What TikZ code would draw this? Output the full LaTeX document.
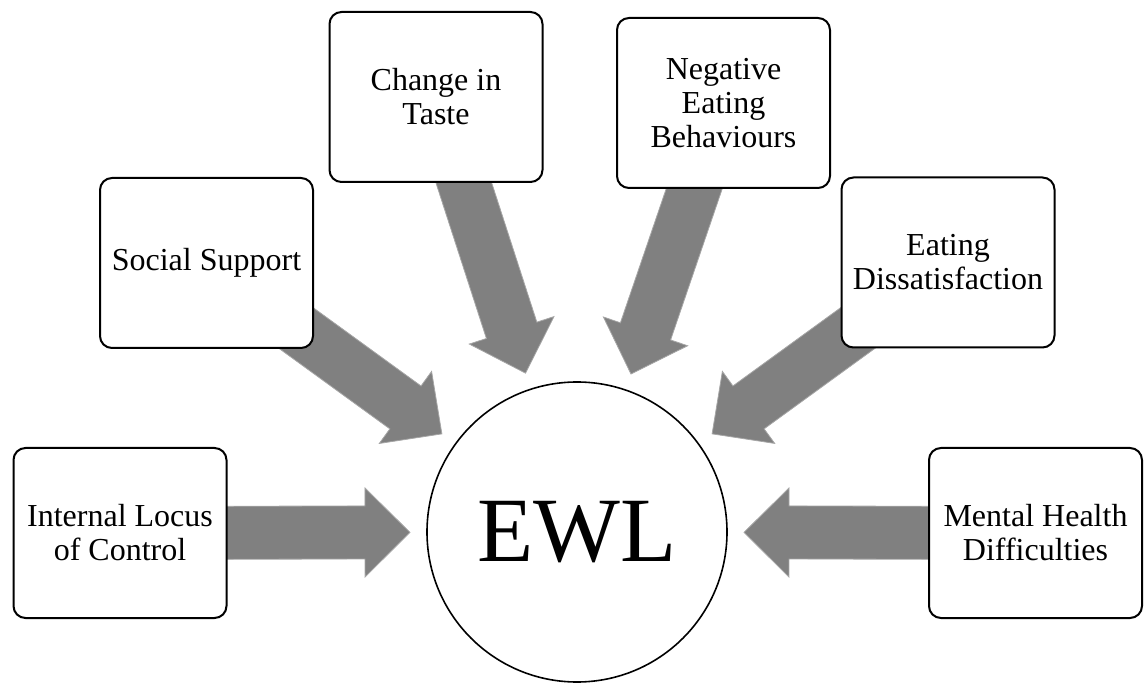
\documentclass[tikz,border=0pt]{standalone}
\usepackage{fontspec}
\setmainfont{Liberation Serif}
\usetikzlibrary{calc,backgrounds}

\tikzset{
  factor/.style={draw=black, line width=2pt, rounded corners=12pt, fill=white,
    minimum width=213pt, minimum height=170pt, inner sep=0pt, align=center,
    font=\fontsize{32}{34}\selectfont},
  hub/.style={circle, draw=black, line width=1.6pt, fill=white,
    minimum size=300pt, inner sep=0pt, font=\fontsize{92}{92}\selectfont},
  blockarrow/.style={fill=black!50, draw=black!35, line width=0.8pt, line join=miter}
}

% Block arrow from the centre of node #1 to the point #2; #3 names the helper point
\newcommand\flowarrow[3]{%
  \coordinate (#3) at ($(#2)!45pt!(#1.center)$);
  \filldraw[blockarrow]
    ($(#1.center)!26.5pt!90:(#2)$) -- ($(#3)!26.5pt!90:(#2)$) --
    ($(#3)!44.5pt!90:(#2)$) -- (#2) -- ($(#3)!44.5pt!-90:(#2)$) --
    ($(#3)!26.5pt!-90:(#2)$) -- ($(#1.center)!26.5pt!-90:(#2)$) -- cycle;
}

\begin{document}
\begin{tikzpicture}[x=1pt, y=-1pt]
  \useasboundingbox (0,0) rectangle (1144,684);

  % central outcome
  \node[hub] (ewl) at (577,532) {EWL};

  % contributing factors
  \node[factor] (ilc) at (120,533)    {Internal Locus\\of Control};
  \node[factor] (ss)  at (206.5,263)  {Social Support};
  \node[factor] (cit) at (436,97)     {Change in\\Taste};
  \node[factor] (neb) at (723.5,103)  {Negative\\Eating\\Behaviours};
  \node[factor] (ed)  at (948,262.5)  {Eating\\Dissatisfaction};
  \node[factor] (mhd) at (1035.5,533) {Mental Health\\Difficulties};

  % arrow tips stop just short of the circle
  \foreach \f in {ilc,ss,cit,neb,ed,mhd}{
    \coordinate (tip-\f) at ($(ewl.center)!167pt!(\f.center)$);
  }

  \begin{scope}[on background layer]
    \flowarrow{ilc}{tip-ilc}{base-ilc}
    \flowarrow{ss}{tip-ss}{base-ss}
    \flowarrow{cit}{tip-cit}{base-cit}
    \flowarrow{neb}{tip-neb}{base-neb}
    \flowarrow{ed}{tip-ed}{base-ed}
    \flowarrow{mhd}{tip-mhd}{base-mhd}
  \end{scope}
\end{tikzpicture}
\end{document}
